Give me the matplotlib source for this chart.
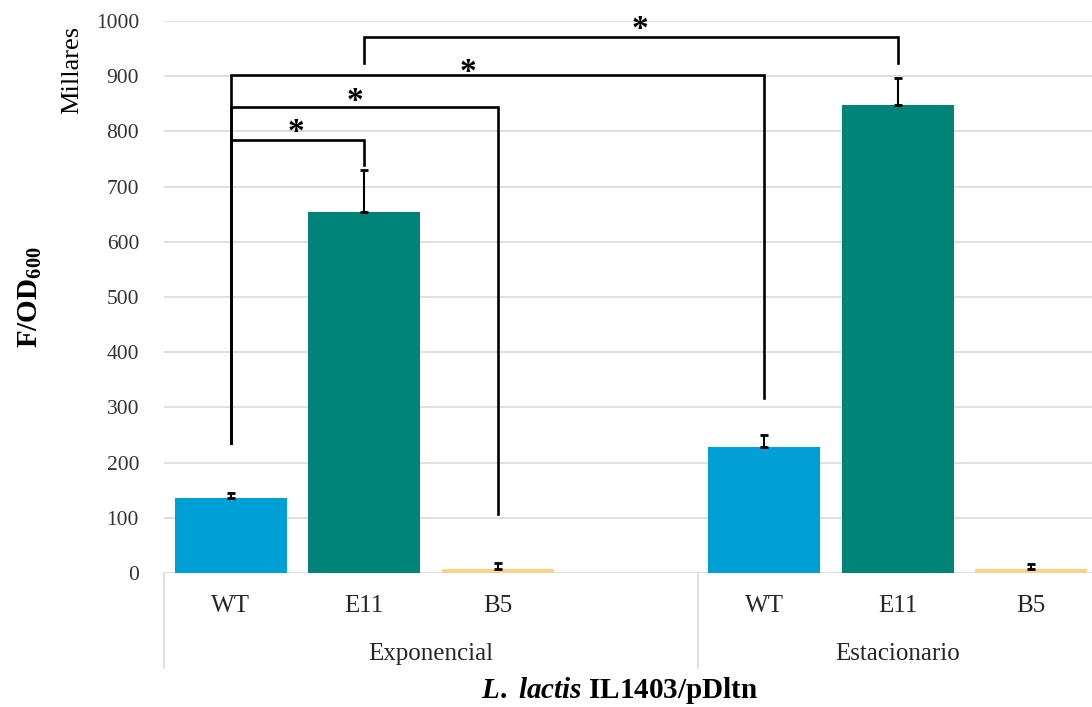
#!/usr/bin/env python3
"""
F/OD600 柱状图（L. lactis IL1403/pDltn），带显著性括号
"""

import matplotlib
matplotlib.use("Agg")
import matplotlib.pyplot as plt

# ============================================================================
# 数据区域
# ============================================================================

PHASES = ["Exponencial", "Estacionario"]
STRAINS = ["WT", "E11", "B5"]
STRAIN_LABELS = ["WT", "E11", "B5"]

# 每个生长阶段的数值（千为单位）
EXPO_VALUES = [136, 654, 8]
EXPO_ERR = [9, 76, 11]
STAT_VALUES = [228, 848, 7]
STAT_ERR = [22, 49, 9]

# 槽位：第一组有 4 个槽位（最后一个为空），第二组 3 个
EXPO_SLOTS = [0, 1, 2]
STAT_SLOTS = [4, 5, 6]
N_SLOTS = 7
GROUP_EDGES = [-0.5, 3.5]

# 显著性括号：(左槽位, 右槽位, 顶部高度, 左腿底部, 右腿底部, 星号x, 星号y)
BRACKETS = [
    (0, 1, 784, 235, 739, 0.49, 813),
    (0, 2, 844, 235, 107, 0.93, 868),
    (0, 4, 902, 235, 317, 1.78, 922),
    (1, 5, 971, 924, 924, 3.07, 1000),
]

# ============================================================================
# 样式
# ============================================================================

COLORS = {"WT": "#009FD6", "E11": "#00847A", "B5": "#FDD28C"}
BAR_WIDTH = 0.84
FONT = "Liberation Serif"
GRID_COLOR = "#D9D9D9"
STAR_SIZE = 24

plt.rcParams["font.family"] = [FONT, "DejaVu Serif"]
plt.rcParams["mathtext.fontset"] = "custom"
plt.rcParams["mathtext.rm"] = FONT + ":bold"
plt.rcParams["mathtext.it"] = FONT + ":italic:bold"
plt.rcParams["mathtext.bf"] = FONT + ":bold"


def main():
    fig = plt.figure(figsize=(10.92, 7.07), dpi=100)
    ax = fig.add_axes([164 / 1092, 134 / 707, 934 / 1092, 552 / 707])

    # 柱子
    for slots, values, errs in [(EXPO_SLOTS, EXPO_VALUES, EXPO_ERR),
                                (STAT_SLOTS, STAT_VALUES, STAT_ERR)]:
        for x, strain, v, e in zip(slots, STRAINS, values, errs):
            ax.bar(x, v, width=BAR_WIDTH, color=COLORS[strain], zorder=2)
            ax.errorbar(x, v, yerr=[[0], [e]], color="black", lw=1.5,
                        capsize=3, capthick=2, zorder=3)

    ax.set_xlim(-0.5, N_SLOTS - 0.5)
    ax.set_ylim(0, 1000)
    ax.set_yticks(range(0, 1001, 100))
    ax.set_yticklabels([str(t) for t in range(0, 1001, 100)],
                       fontsize=15.5, color="#333333")
    ax.tick_params(axis="y", length=0, pad=18)
    ax.set_xticks([])
    ax.grid(axis="y", color=GRID_COLOR, lw=1.2, zorder=0)
    for s in ax.spines.values():
        s.set_visible(False)

    # 多级类别轴
    xt = ax.get_xaxis_transform()
    for slots in (EXPO_SLOTS, STAT_SLOTS):
        for x, lab in zip(slots, STRAIN_LABELS):
            ax.text(x, -0.06, lab, transform=xt, ha="center", va="center",
                    fontsize=18, color="#262626")
    for edge in GROUP_EDGES:
        ax.plot([edge, edge], [0, -0.172], transform=xt, color=GRID_COLOR,
                lw=1.2, clip_on=False)
    group_centers = [(GROUP_EDGES[0] + GROUP_EDGES[1]) / 2,
                     sum(STAT_SLOTS) / len(STAT_SLOTS)]
    for xc, lab in zip(group_centers, PHASES):
        ax.text(xc, -0.146, lab, transform=xt, ha="center", va="center",
                fontsize=18, color="#262626")

    # 显著性括号
    for l, r, top, lb, rb, sx, sy in BRACKETS:
        ax.plot([l, l, r, r], [lb, top, top, rb], color="black", lw=1.9,
                solid_joinstyle="miter", zorder=4, clip_on=False)
        ax.text(sx, sy - 30, "*", ha="center", va="baseline",
                fontsize=STAR_SIZE, fontweight="bold", zorder=5)

    # 轴标签
    fig.text(72 / 1092, 1 - 70 / 707, "Millares", rotation=90, ha="center",
             va="center", fontsize=19, color="black")
    fig.text(30 / 1092, 1 - 297 / 707, r"F/OD$_{600}$", rotation=90,
             ha="center", va="center", fontsize=21, fontweight="bold")
    fig.text(620 / 1092, 1 - 691 / 707, r"$L.$ $lactis$ IL1403/pDltn",
             ha="center", va="center", fontsize=21, fontweight="bold")

    fig.savefig("out.png", dpi=100)
    plt.close(fig)


if __name__ == "__main__":
    main()
